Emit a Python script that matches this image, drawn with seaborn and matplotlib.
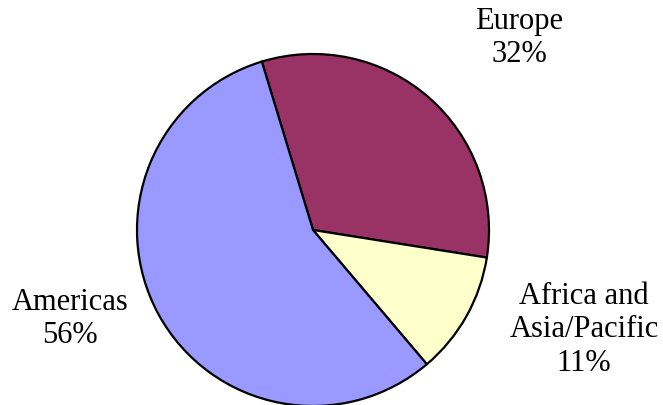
import matplotlib
matplotlib.use("Agg")
import matplotlib.pyplot as plt
import seaborn as sns

# regional share of the total, clockwise from the top
regions = ["Europe", "Africa and\nAsia/Pacific", "Americas"]
shares = [32.2, 11.3, 56.5]
pct_labels = ["32%", "11%", "56%"]
colors = ["#993366", "#FFFFCC", "#9999FF"]

sns.set_theme(style="white")
plt.rcParams["font.family"] = ["Liberation Serif", "DejaVu Serif"]

W, H = 663, 406
fig = plt.figure(figsize=(W / 100, H / 100), dpi=100)
fig.patch.set_facecolor("white")

# pie centre (313, 231) px from top-left, radius 176 px
cx, cy, r = 313, 231, 176
ax = fig.add_axes([(cx - r) / W, (H - cy - r) / H, 2 * r / W, 2 * r / H])
wedges, _ = ax.pie(shares, colors=colors, startangle=106.9, counterclock=False,
                   wedgeprops=dict(edgecolor="black", linewidth=1.6))
for w in wedges:
    w.set_clip_on(False)
ax.set_xlim(-1, 1)
ax.set_ylim(-1, 1)
ax.axis("off")

# label positions in pixels (x centre, y centre of text block)
label_pos = [(519, 38), (584, 330), (70, 319)]
for name, pct, (x, y) in zip(regions, pct_labels, label_pos):
    fig.text(x / W, 1 - y / H, f"{name}\n{pct}", ha="center", va="center",
             fontsize=22, linespacing=1.22, color="black")

fig.savefig("out.png", dpi=100, facecolor="white")
